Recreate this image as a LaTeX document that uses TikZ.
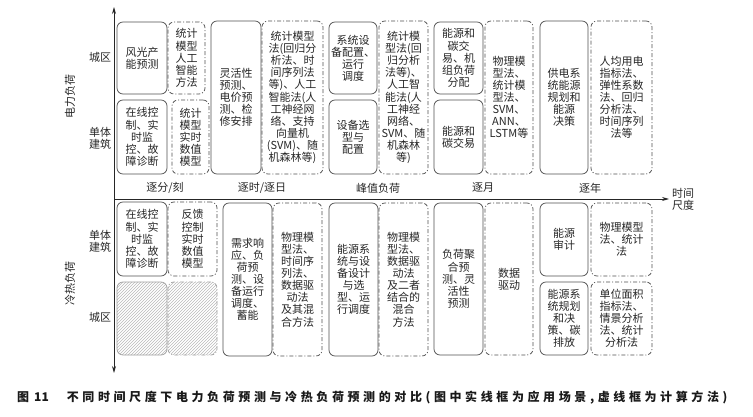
\documentclass[tikz,border=0pt]{standalone}
\usepackage{fontspec}
\setmainfont{Noto Sans CJK SC}
\newfontfamily\capfont{Noto Sans CJK SC}[LetterSpace=30]
\usetikzlibrary{arrows.meta,patterns}
\definecolor{ln}{HTML}{505050}
\definecolor{tx}{HTML}{262626}
\tikzset{
  base/.style={rounded corners=6pt, line width=0.75pt, draw=ln, inner sep=0pt, outer sep=0pt,
    align=center, text=tx, font=\fontsize{11}{12.1}\selectfont},
  solidbox/.style={base},
  dashbox/.style={base, dash pattern=on 4pt off 2pt on 1pt off 2pt},
  hatchbox/.style={base, draw=gray!75, pattern=north east lines, pattern color=gray!55},
  hatchdash/.style={hatchbox, dash pattern=on 4pt off 2pt on 1pt off 2pt},
  lbl/.style={text=tx, align=center, inner sep=0pt, font=\fontsize{11}{12.1}\selectfont},
  axis/.style={line width=0.85pt, draw=black!85},
  tip/.style={-{Stealth[length=7pt,width=4pt]}}
}
\newcommand\bx[7]{\node[#1, minimum width={(#5-#3)*1pt}, minimum height={(#6-#4)*1pt}, anchor=north west] (#2) at (#3,#4) {#7};}
\begin{document}
\begin{tikzpicture}[x=1pt,y=-1pt]
\useasboundingbox (0,0) rectangle (753,417);
% axes
\coordinate (o) at (114,199);
\coordinate (top) at (114,7);
\coordinate (bot) at (114,373);
\coordinate (rt) at (669,199);
\draw[axis,tip] (o) -- (top);
\draw[axis,tip] (o) -- (bot);
\draw[axis,tip] (o) -- (rt);
\node[lbl] (tscale) at (683,199) {时间\\尺度};
% column labels
\node[lbl] (c1) at (165,188) {逐分/刻};
\node[lbl] (c2) at (262,188) {逐时/逐日};
\node[lbl] (c3) at (378,188) {峰值负荷};
\node[lbl] (c4) at (483,188) {逐月};
\node[lbl] (c5) at (590,188) {逐年};
% row labels
\node[lbl] (r1) at (100,57) {城区};
\node[lbl] (r2) at (100,138) {单体\\建筑};
\node[lbl] (r3) at (100,241) {单体\\建筑};
\node[lbl] (r4) at (100,317) {城区};
\node[lbl, rotate=90] (g1) at (70,97) {电力负荷};
\node[lbl, rotate=90] (g2) at (70,283) {冷热负荷};
% top boxes
\bx{solidbox}{a1}{117}{22}{167}{94}{风光产\\能预测}
\bx{dashbox}{a2}{168}{22}{205}{94}{统计\\模型\\人工\\智能\\方法}
\bx{solidbox}{a3}{117}{100}{167}{174}{在线控\\制、实\\时监\\控、故\\障诊断}
\bx{dashbox}{a4}{172}{100}{209}{174}{统计\\模型\\实时\\数值\\模型}
\bx{solidbox}{a5}{211}{21}{261}{174}{灵活性\\预测、\\电价预\\测、检\\修安排}
\bx{dashbox}{a6}{262}{21}{323}{174}{统计模型\\法(回归分\\析法、时\\间序列法\\等)、人工\\智能法(人\\工神经网\\络、支持\\向量机\\(SVM)、随\\机森林等)}
\bx{solidbox}{a7}{329}{22}{377}{94}{系统设\\备配置、\\运行\\调度}
\bx{solidbox}{a8}{329}{100}{377}{174}{设备选\\型与\\配置}
\bx{dashbox}{a9}{379}{21}{428}{174}{统计模\\型法(回\\归分析\\法等)、\\人工智\\能法(人\\工神经\\网络、\\SVM、随\\机森林\\等)}
\bx{solidbox}{a10}{434}{22}{483}{94}{能源和\\碳交\\易、机\\组负荷\\分配}
\bx{solidbox}{a11}{434}{100}{483}{174}{能源和\\碳交易}
\bx{dashbox}{a12}{485}{21}{533}{174}{物理模\\型法、\\统计模\\型法、\\SVM、\\ANN、\\LSTM等}
\bx{solidbox}{a13}{540}{21}{588}{174}{供电系\\统能源\\规划和\\能源\\决策}
\bx{dashbox}{a14}{591}{21}{652}{174}{人均用电\\指标法、\\弹性系数\\法、回归\\分析法、\\时间序列\\法等}
% bottom boxes
\bx{solidbox}{b1}{117}{202}{167}{276}{在线控\\制、实\\时监\\控、故\\障诊断}
\bx{dashbox}{b2}{168}{202}{217}{276}{反馈\\控制\\实时\\数值\\模型}
\bx{hatchbox}{b3}{117}{282}{167}{355}{}
\bx{hatchdash}{b4}{168}{282}{217}{355}{}
\bx{solidbox}{b5}{223}{203}{272}{356}{需求响\\应、负\\荷预\\测、设\\备运行\\调度、\\蓄能}
\bx{dashbox}{b6}{273}{203}{322}{356}{物理模\\型法、\\时间序\\列法、\\数据驱\\动法\\及其混\\合方法}
\bx{solidbox}{b7}{329}{203}{378}{356}{能源系\\统与设\\备设计\\与选\\型、运\\行调度}
\bx{dashbox}{b8}{379}{203}{428}{356}{物理模\\型法、\\数据驱\\动法\\及二者\\结合的\\混合\\方法}
\bx{solidbox}{b9}{434}{203}{483}{355}{负荷聚\\合预\\测、灵\\活性\\预测}
\bx{dashbox}{b10}{485}{203}{533}{355}{数据\\驱动}
\bx{solidbox}{b11}{540}{203}{588}{276}{能源\\审计}
\bx{dashbox}{b12}{591}{203}{652}{276}{物理模型\\法、统计\\法}
\bx{solidbox}{b13}{540}{282}{588}{355}{能源系\\统规划\\和决\\策、碳\\排放}
\bx{dashbox}{b14}{591}{282}{652}{355}{单位面积\\指标法、\\情景分析\\法、统计\\分析法}
% caption
\node[anchor=west, inner sep=0pt, text=black!90, font=\bfseries\fontsize{12}{12}\selectfont] (cap) at (17,398) {图\hspace{5pt}11\hspace{18pt}{\capfont\bfseries\fontsize{12}{12}\selectfont 不同时间尺度下电力负荷预测与冷热负荷预测的对比(图中实线框为应用场景,虚线框为计算方法)}};
\end{tikzpicture}
\end{document}
